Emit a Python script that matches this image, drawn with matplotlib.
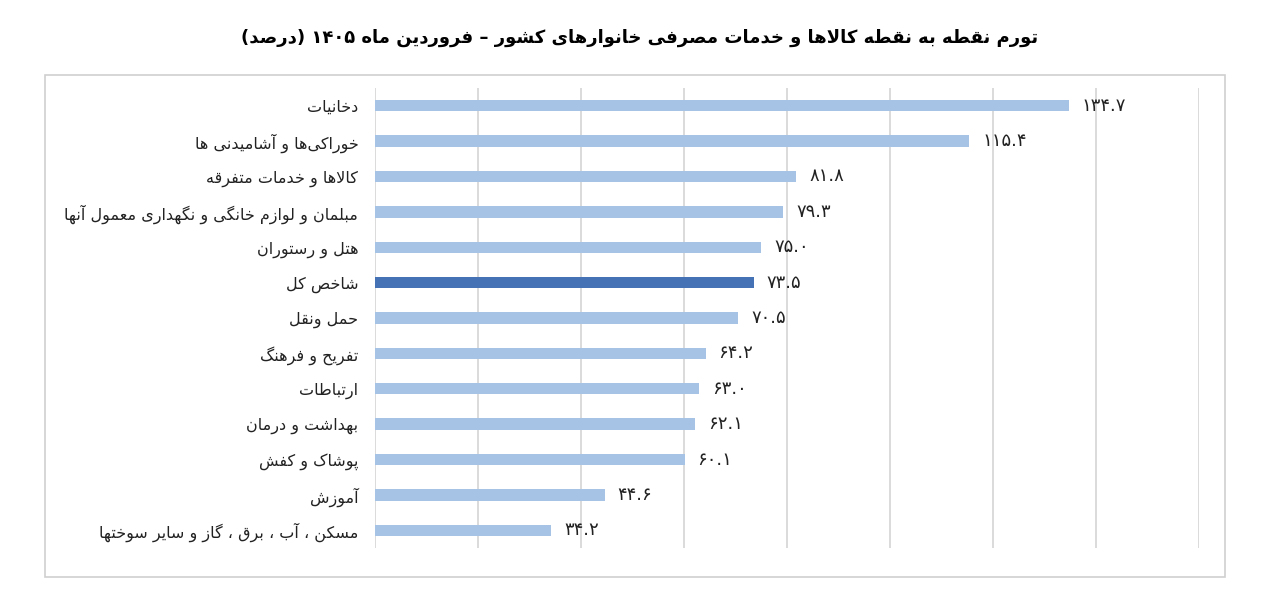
import matplotlib
matplotlib.use("Agg")
import matplotlib.pyplot as plt
from matplotlib.patches import Rectangle

categories = ["دخانیات", "خوراکی‌ها و آشامیدنی ها", "کالاها و خدمات متفرقه",
              "مبلمان و لوازم خانگی و نگهداری معمول آنها", "هتل و رستوران", "شاخص کل",
              "حمل ونقل", "تفریح و فرهنگ", "ارتباطات", "بهداشت و درمان",
              "پوشاک و کفش", "آموزش", "مسکن ، آب ، برق ، گاز و سایر سوختها"]
values = [134.7, 115.4, 81.8, 79.3, 75.0, 73.5, 70.5, 64.2, 63.0, 62.1, 60.1, 44.6, 34.2]
highlight = "شاخص کل"
title = "تورم نقطه به نقطه کالاها و خدمات مصرفی خانوارهای کشور – فروردین ماه ۱۴۰۵ (درصد)"

F = {'ا':(0xFE8D,0xFE8E,None,None),'آ':(0xFE81,0xFE82,None,None),
'ب':(0xFE8F,0xFE90,0xFE91,0xFE92),'پ':(0xFB56,0xFB57,0xFB58,0xFB59),
'ت':(0xFE95,0xFE96,0xFE97,0xFE98),'ث':(0xFE99,0xFE9A,0xFE9B,0xFE9C),
'ج':(0xFE9D,0xFE9E,0xFE9F,0xFEA0),'چ':(0xFB7A,0xFB7B,0xFB7C,0xFB7D),
'ح':(0xFEA1,0xFEA2,0xFEA3,0xFEA4),'خ':(0xFEA5,0xFEA6,0xFEA7,0xFEA8),
'د':(0xFEA9,0xFEAA,None,None),'ذ':(0xFEAB,0xFEAC,None,None),
'ر':(0xFEAD,0xFEAE,None,None),'ز':(0xFEAF,0xFEB0,None,None),'ژ':(0xFB8A,0xFB8B,None,None),
'س':(0xFEB1,0xFEB2,0xFEB3,0xFEB4),'ش':(0xFEB5,0xFEB6,0xFEB7,0xFEB8),
'ص':(0xFEB9,0xFEBA,0xFEBB,0xFEBC),'ض':(0xFEBD,0xFEBE,0xFEBF,0xFEC0),
'ط':(0xFEC1,0xFEC2,0xFEC3,0xFEC4),'ظ':(0xFEC5,0xFEC6,0xFEC7,0xFEC8),
'ع':(0xFEC9,0xFECA,0xFECB,0xFECC),'غ':(0xFECD,0xFECE,0xFECF,0xFED0),
'ف':(0xFED1,0xFED2,0xFED3,0xFED4),'ق':(0xFED5,0xFED6,0xFED7,0xFED8),
'ک':(0xFB8E,0xFB8F,0xFB90,0xFB91),'گ':(0xFB92,0xFB93,0xFB94,0xFB95),
'ل':(0xFEDD,0xFEDE,0xFEDF,0xFEE0),'م':(0xFEE1,0xFEE2,0xFEE3,0xFEE4),
'ن':(0xFEE5,0xFEE6,0xFEE7,0xFEE8),'و':(0xFEED,0xFEEE,None,None),
'ه':(0xFEE9,0xFEEA,0xFEEB,0xFEEC),'ی':(0xFBFC,0xFBFD,0xFBFE,0xFBFF)}

def shape(s):
    s = s.replace('لا', '\uE001').replace('لآ', '\uE002')
    chars = list(s)
    out = []
    for i, c in enumerate(chars):
        p = chars[i-1] if i > 0 else None
        n = chars[i+1] if i + 1 < len(chars) else None
        jp = p is not None and p in F and F[p][2] is not None
        if c in '\uE001\uE002':
            base = 0xFEFB if c == '\uE001' else 0xFEF5
            out.append(chr(base + 1 if jp else base))
            continue
        if c not in F:
            if c != '\u200c':
                out.append(c)
            continue
        iso, fin, ini, med = F[c]
        jn = ini is not None and n is not None and (n in F or n in '\uE001\uE002')
        if jp and jn: out.append(chr(med))
        elif jp: out.append(chr(fin))
        elif jn: out.append(chr(ini))
        else: out.append(chr(iso))
    runs, cur = [], ''
    for ch in out:
        if ch.isdigit() or (cur and ch == '.'):
            cur += ch
        else:
            if cur: runs.append(cur); cur = ''
            runs.append(ch)
    if cur: runs.append(cur)
    mirror = {'(': ')', ')': '('}
    return ''.join(mirror.get(r, r) for r in reversed(runs))

def fa_num(v):
    return f"{v:.1f}".translate(str.maketrans("0123456789", "۰۱۲۳۴۵۶۷۸۹"))

plt.rcParams['font.family'] = ['DejaVu Sans']
fig = plt.figure(figsize=(12.8, 6), dpi=100)
fig.patches.append(Rectangle((45/1280, 1-577/600), 1180/1280, 502/600, transform=fig.transFigure,
                             fill=False, edgecolor='#d0d0d0', lw=1.2))
ax = fig.add_axes([375/1280, 1-548/600, 824/1280, 460/600])
y = list(range(len(categories)))
colors = ['#4472b4' if c == highlight else '#a6c2e4' for c in categories]
ax.barh(y, values, height=0.32, color=colors, zorder=3)
ax.set_ylim(len(categories) - 0.5, -0.5)
ax.set_xlim(0, 160)
ax.set_xticks(range(0, 161, 20))
ax.xaxis.grid(True, color='#d4d4d4', lw=1.2, zorder=0)
ax.tick_params(axis='x', length=0, labelbottom=False)
ax.tick_params(axis='y', length=0, pad=12)
ax.set_yticks(y)
ax.set_yticklabels([shape(c) for c in categories], fontsize=11.5, color='#222222')
for s in ax.spines.values():
    s.set_visible(False)
for yi, v in zip(y, values):
    ax.text(v + 2.5, yi, fa_num(v), va='center', ha='left', fontsize=13, color='#222222')
fig.text(0.5, 1-38/600, shape(title), ha='center', va='center', fontsize=13, fontweight='bold')
fig.savefig("out.png", dpi=100, facecolor='white')
